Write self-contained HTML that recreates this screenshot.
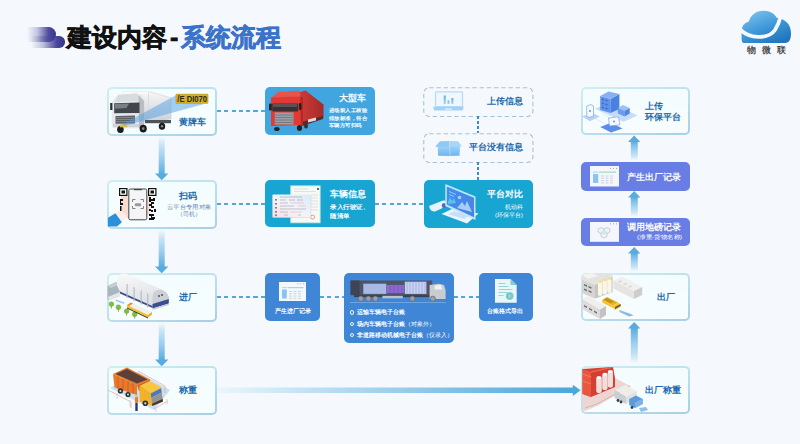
<!DOCTYPE html>
<html><head><meta charset="utf-8">
<style>
*{margin:0;padding:0;box-sizing:border-box}
html,body{width:800px;height:444px;overflow:hidden;background:#f5f8fd;font-family:"Liberation Sans",sans-serif}
.a{position:absolute}
.lb{position:absolute;border:2px solid transparent;border-radius:5px;background:linear-gradient(180deg,#f3fcfe,#f7fdff) padding-box,linear-gradient(160deg,#d0eff2 0%,#bfe2ee 45%,#a6cfe6 100%) border-box}
.lbl{position:absolute;font-weight:bold;color:#1b68aa;font-size:9px;line-height:10px;white-space:nowrap}
.bb{position:absolute;border-radius:5px}
.wt{position:absolute;color:#fff;white-space:nowrap}
.dh{position:absolute;height:2px;background:repeating-linear-gradient(90deg,#55a4da 0 4px,transparent 4px 7.3px)}
.dv{position:absolute;width:2px;background:repeating-linear-gradient(180deg,#3c8ac8 0 3px,transparent 3px 5px)}
.dbox{position:absolute;border:1px dashed #a9c6de;border-radius:6px}
</style></head><body>

<!-- title logo -->
<div class="a" style="left:31px;top:36.2px;width:33.7px;height:11.5px;border-radius:0 5.75px 5.75px 0;background:linear-gradient(90deg,rgba(70,68,150,0),rgba(70,68,150,0.3) 35%,#4a489a 75%,#363487)"></div>
<div class="a" style="left:27px;top:26.8px;width:29px;height:14.8px;border-radius:0 7.4px 7.4px 0;background:linear-gradient(90deg,rgba(70,68,150,0),rgba(80,78,160,0.3) 35%,#4d4b9e 75%,#37358a)"></div>

<div class="a" style="left:67px;top:22px;font-size:25px;line-height:30px;font-weight:bold;color:#111;white-space:nowrap;-webkit-text-stroke:0.7px #111">建设内容<span style="padding:0 2.5px 0 3px">-</span><span style="color:#3b73c9;-webkit-text-stroke:0.7px #3b73c9">系统流程</span></div>

<!-- cloud logo -->
<svg class="a" style="left:740px;top:9px" width="54" height="36" viewBox="0 0 54 36">
<defs><linearGradient id="cg" x1="0.2" y1="0" x2="0.8" y2="1"><stop offset="0" stop-color="#78c2ee"/><stop offset="0.55" stop-color="#3a94d6"/><stop offset="1" stop-color="#1f72bc"/></linearGradient></defs>
<path d="M4.5 34 C2 34 1.6 32 1.6 29 L1.6 22.5 C1.6 17.5 4 13.8 8.8 12.8 C10.5 6.5 15.5 1.8 23.5 1.8 C30.5 1.8 34.5 4.8 36.6 8.8 C45 9.6 51 15.5 51 24 C51 30 49.5 34 45 34 Z" fill="url(#cg)"/>
<path d="M0 20.3 C9 29.5 28 31 35 21 C37.5 17 39.5 12 41 6.5" stroke="#f5f8fd" stroke-width="3.8" fill="none"/>
</svg>
<div class="a" style="left:747px;top:44px;font-size:9px;line-height:12px;color:#2a2a2a;letter-spacing:6px;white-space:nowrap;-webkit-text-stroke:0.2px #2a2a2a">物微联</div>

<!-- LEFT COLUMN -->
<div class="lb" style="left:107px;top:87px;width:109.5px;height:48.5px"></div>
<svg class="a" style="left:108px;top:88px" width="104" height="46" viewBox="0 0 104 46">
<defs><linearGradient id="cbx" x1="0" y1="0" x2="0" y2="1"><stop offset="0" stop-color="#f6f6f6"/><stop offset="1" stop-color="#cdd0d4"/></linearGradient></defs>
<path d="M14.5 4.1 L40.9 3.6 L63.1 9.8 L63.1 31 L37.3 34.2 L30 30 Z" fill="url(#cbx)" stroke="#c9ccd0" stroke-width="0.5"/>
<path d="M14.5 4.1 L40.9 3.6 L43 5.5 L16 6.5 Z" fill="#fafafa"/>
<path d="M40.5 4 L40.5 34" stroke="#d0d3d6" stroke-width="0.6"/>
<path d="M4.1 14 L9 8 L28 5.5 L34 7.5 L36.2 13 L36.2 38.5 L30 40.4 L5 40 L3.6 36 Z" fill="#e6e8ea"/>
<path d="M10 6.8 L29 5.2 L33.5 12.5 L7 14 Z" fill="#d9dcdf"/>
<path d="M30.5 7 L36.2 13 L36.2 38.5 L31 40 Z" fill="#b9bdc2"/>
<path d="M6.2 15.2 L31.5 14.5 L31.5 25 L6.2 25.2 Z" fill="#42464e"/>
<path d="M7 16 L21 15.6 L18.5 20 L7 20.8 Z" fill="#7a7e86"/>
<path d="M7.5 28 L27 27.5 L27 35.5 L7.5 35.8 Z" fill="#5c6068"/>
<g stroke="#9a9ea6" stroke-width="0.6"><path d="M8 29.5h18.5M8 31.5h18.5M8 33.5h18.5"/></g>
<rect x="5" y="36" width="26" height="3" fill="#d0d3d6"/>
<rect x="2.2" y="15" width="2.2" height="7" fill="#2e2e32"/>
<rect x="37" y="32" width="26" height="3.2" fill="#50545a"/>
<g fill="#1c1c20"><ellipse cx="12.4" cy="41.4" rx="3.3" ry="3.5"/><ellipse cx="35.2" cy="40.6" rx="3.6" ry="3.9"/><ellipse cx="54" cy="38.3" rx="3.2" ry="3.5"/></g>
<g fill="#8a8a8a"><circle cx="35.2" cy="40.6" r="1.3"/><circle cx="54" cy="38.3" r="1.2"/></g>
<rect x="11.9" y="36.5" width="7.3" height="2.8" fill="#d8c040"/>
<path d="M67.9 7.2 L96 15.9 L17.5 37.5 L14 36.8 Z" fill="#4f9fe4" opacity="0.5"/>
<rect x="67.9" y="6.1" width="32.2" height="9.4" rx="0.8" fill="#cfb032" stroke="#b09020" stroke-width="0.4"/>
<text x="69.3" y="14" font-family="Liberation Sans, sans-serif" font-size="8.6" font-weight="bold" fill="#2e2a10" textLength="29.8" lengthAdjust="spacingAndGlyphs">/E DI070</text>
</svg>
<div class="lbl" style="left:179px;top:117px">黄牌车</div>
<div class="lb" style="left:107px;top:180px;width:109.5px;height:48.5px"></div>
<svg class="a" style="left:106px;top:184px" width="56" height="44" viewBox="0 0 56 44">
<path d="M14.9 12 L22.3 12 L22.3 34 L14.9 34 Z" fill="#fadbd1"/>
<path d="M41.1 12 L44 12 L44 31 L41.1 31 Z" fill="#fadbd1"/>
<path d="M9.4 29.2 L14.5 25.5 L21 33.5 L15.9 38.2 Z" fill="#fbeee9"/>
<path d="M2 33.7 L9.4 29.2 L15.9 38.2 L11 42.5 L2 42.5 Z" fill="#2b8fda"/>
<g fill="#111">
<rect x="13" y="4" width="8.5" height="8"/><rect x="42" y="4" width="8.5" height="8"/>
</g>
<g fill="#fff"><rect x="14.2" y="5.2" width="6.1" height="5.6"/><rect x="43.2" y="5.2" width="6.1" height="5.6"/></g>
<g fill="#111"><rect x="15.5" y="6.5" width="3.5" height="3"/><rect x="44.5" y="6.5" width="3.5" height="3"/>
<path d="M14 15h3v2h-2v2h2v2h-3zM14 22h1.5v5H14z"/>
<path d="M43 13h2v2h2v2h-2v1h3v2h-2v2h2v2h-3v2h2v2h-2v2h3v2h-2v2h2v2h-5v-2h2v-2h-2v-2h2v-3h-2v-2h2v-3h-2v-2h2v-2h-2z"/>
<path d="M47 14h2v3h-2zM48 25h2v3h-2zM46 33h3v2h-3z"/>
</g>
<rect x="22.8" y="5" width="18" height="30.8" rx="1.5" fill="#f5f5f7" stroke="#444" stroke-width="1"/>
<rect x="28" y="5" width="8" height="1.2" fill="#444"/>
<g stroke="#777" stroke-width="0.9" fill="none"><path d="M26.5 18v-2.5h3M34.5 15.5h3v2.5M37.5 22v2.5h-3M29.5 24.5h-3v-2.5"/></g>
<rect x="28.8" y="19.3" width="6.4" height="3" rx="1.2" fill="#999"/>
</svg>
<div class="lbl" style="left:179px;top:191px">扫码</div>
<div class="a" style="left:166.5px;top:204px;font-size:6px;line-height:7px;color:#6585b5;white-space:nowrap;transform:scaleX(1.057);transform-origin:0 0">云平台专用对象</div>
<div class="a" style="left:176.5px;top:211px;font-size:6px;line-height:7px;color:#6585b5;white-space:nowrap">（司机）</div>
<div class="lb" style="left:107px;top:273px;width:109.5px;height:48.5px"></div>
<svg class="a" style="left:106px;top:272px" width="66" height="48" viewBox="0 0 66 48">
<defs><linearGradient id="roof" x1="0" y1="0" x2="0.3" y2="1"><stop offset="0" stop-color="#fafafa"/><stop offset="1" stop-color="#dcdfe3"/></linearGradient></defs>
<path d="M1.5 14 L10 10 L14 12 L14 24 L3 28 L1.5 27 Z" fill="#a9b6be"/>
<path d="M1.5 14 L10 10 L14 12 L5 16 Z" fill="#c5ced4"/>
<path d="M2 25 L14 20 L14 24 L3 28 Z" fill="#e4e6e8"/>
<path d="M11 6 Q13 1 20 1.5 L52 16 Q60 18 62.8 25 L62.8 29 L46.5 34 L14 19.5 L11 14 Z" fill="url(#roof)"/>
<path d="M46.5 25 Q47 17.5 54 17.8 Q61 18.5 62.8 25 L62.8 29.5 L46.5 34.5 Z" fill="#cdd1d7"/>
<path d="M14 19.5 L46.5 34 L46.5 36 L14 21.5 Z" fill="#3b4f8e"/>
<path d="M46.5 32 L62.8 27 L62.8 31.5 L46.5 36.5 Z" fill="#3b4f8e"/>
<path d="M46.5 36.5 L62.8 31.5 L62.8 33 L46.5 38 Z" fill="#c8ccd2"/>
<g fill="#444"><circle cx="53" cy="24" r="0.9"/><circle cx="56" cy="23" r="0.9"/></g>
<g stroke="#b4b8c0" stroke-width="1.1"><path d="M21.1 12v14M28.1 15.2v14M35.2 18.4v14M41.7 21.6v14"/></g>
<path d="M10 27.5 L18.5 30.5 L18 32 L9.5 29 Z" fill="#9ccaf0"/>
<g fill="#7cbf3e"><circle cx="5.4" cy="32" r="2.6"/><circle cx="12.4" cy="35.2" r="2.6"/><circle cx="20.6" cy="39" r="2.6"/><circle cx="28.7" cy="42.2" r="2.6"/></g>
<g stroke="#8a6a3a" stroke-width="0.7"><path d="M5.4 34v2.5M12.4 37.2v2.5M20.6 41v2.5M28.7 44.2v2.5"/></g>
<path d="M21 33 L25 30.5 L46 40 L42 43 Z" fill="#f0f0ee"/>
<path d="M21 33 L42 43 L42 45.5 L21 35.5 Z" fill="#f2c030"/>
<path d="M42 43 L46 40 L46 42.5 L42 45.5 Z" fill="#f3a820"/>
<path d="M21 33 L25 30.5 L27 31.5 L23 34 Z" fill="#ee8a1e"/>
<path d="M21 35.5 L42 45.5 L42 46.5 L21 36.5 Z" fill="#333"/>
</svg>
<div class="lbl" style="left:179px;top:292px">进厂</div>
<div class="lb" style="left:107px;top:366px;width:109.5px;height:48.5px"></div>
<svg class="a" style="left:108px;top:366px" width="64" height="48" viewBox="0 0 64 48">
<path d="M2 22 L30 6 L62 24 L46 44 Z" fill="#c9e0f2"/>
<g stroke="#e8a0a0" stroke-width="0.7" fill="none"><path d="M0 24 L23 36 M30 5 L57 20 M23 36 L23 42 M57 20 L57 27 M46 43 L60 35"/></g>
<g stroke="#c8ccd4" stroke-width="0.8"><path d="M9 27v6M22 34v7M48 42v4M59 33v5"/></g>
<path d="M5 8 L29 19 L29 29 L6.5 21.5 Z" fill="#e9792c"/>
<g stroke="#c85d1c" stroke-width="0.9"><path d="M10 10.5v12.5M15 13v12M20 15v11.5M25 17v11"/></g>
<path d="M5 8 L18.9 1.5 L42 13.5 L29 19 Z" fill="#e57828"/>
<path d="M7.5 8 L19 3 L39.5 13.5 L29 17.5 Z" fill="#5a4038"/>
<path d="M29 19 L42 13.5 L42 19.5 L31 25 Z" fill="#d0651e"/>
<circle cx="12.4" cy="24.9" r="2.6" fill="#333"/><circle cx="12.4" cy="24.9" r="1" fill="#ddd"/>
<circle cx="20" cy="28.6" r="2.6" fill="#333"/><circle cx="20" cy="28.6" r="1" fill="#ddd"/>
<path d="M31.4 20 L41.6 15.1 L53 21 L42.7 26.5 Z" fill="#f9c640"/>
<path d="M31.4 20 L42.7 26.5 L44.3 40 L31.9 35.7 Z" fill="#f3b12a"/>
<path d="M42.7 26.5 L53 21 L55.1 35.7 L44.3 40 Z" fill="#f7b830"/>
<path d="M42.8 27.5 L53.1 22.3 L53.6 26.5 L43.2 31.8 Z" fill="#4a78c4"/>
<path d="M43.3 32 L53.7 26.8 L54.5 32.5 L43.9 37.6 Z" fill="#8f939c"/>
<path d="M44 37.8 L54.6 32.8 L55 35.5 L44.3 40 Z" fill="#3a3a3a"/>
<circle cx="37.3" cy="37.3" r="2.8" fill="#333"/><circle cx="37.3" cy="37.3" r="1.1" fill="#ddd"/>
<rect x="27" y="31" width="3" height="6" rx="1" fill="#f07a20"/>
<circle cx="28.5" cy="30" r="1.3" fill="#e8b890"/>
<rect x="27.3" y="37" width="2.4" height="8" fill="#2a3a6a"/>
</svg>
<div class="lbl" style="left:179px;top:385px">称重</div>

<!-- MIDDLE -->
<div class="bb" style="left:265px;top:87px;width:109.5px;height:47.6px;background:#41a5df"></div>
<svg class="a" style="left:266px;top:88px" width="62" height="46" viewBox="0 0 62 46">
<defs><linearGradient id="trl" x1="0" y1="0" x2="1" y2="0"><stop offset="0" stop-color="#d23c36"/><stop offset="1" stop-color="#a52a2c"/></linearGradient></defs>
<path d="M31 5 L39.5 2.5 L57.5 16.5 L57.5 30 L36 37 L33 36 Z" fill="url(#trl)"/>
<path d="M36 34 L57 28 L57 31 L36 38 Z" fill="#5a2a2a"/>
<rect x="42" y="31" width="8" height="3" fill="#ddd" transform="skewY(-14) translate(0,11)"/>
<path d="M12 4 L33 2.5 L35 9 L5 10 Z" fill="#e8544a"/>
<path d="M5 9.5 L34 8.5 L35 37 L5 38 Z" fill="#e23a32"/>
<path d="M34 8.5 L37 9 L37 37 L35 38 Z" fill="#b22a28"/>
<rect x="6.2" y="15.5" width="26" height="8" rx="1" fill="#3c2f33"/>
<rect x="7" y="16" width="24" height="3" fill="#5b5258"/>
<rect x="8.8" y="24.5" width="18.7" height="12" fill="#9aa0a8"/>
<g stroke="#6b7078" stroke-width="0.8"><path d="M9 27H27M9 29.5H27M9 32H27M9 34.5H27"/></g>
<rect x="3" y="15.5" width="2.8" height="7" rx="1" fill="#222"/>
<rect x="33" y="15" width="2.5" height="7" rx="1" fill="#222"/>
<ellipse cx="10.9" cy="41" rx="2.8" ry="2" fill="#222"/>
<ellipse cx="33.5" cy="40" rx="2.6" ry="3" fill="#222"/>
<ellipse cx="40" cy="38" rx="2" ry="2.6" fill="#333"/>
</svg>
<div class="wt" style="left:339px;top:93px;font-size:9px;font-weight:bold;line-height:10px">大型车</div>
<div class="wt" style="left:328.7px;top:107.3px;font-size:5.25px;line-height:7.35px;transform:scaleX(1.09);transform-origin:0 0;font-weight:bold">进场前人工核验<br>排放标准，符合<br>车辆方可扫码</div>

<div class="bb" style="left:265px;top:180px;width:109.8px;height:47.4px;background:#19a5d1"></div>
<svg class="a" style="left:270px;top:184px" width="54" height="42" viewBox="0 0 54 42">
<defs><linearGradient id="crd" x1="0" y1="1" x2="1" y2="0"><stop offset="0" stop-color="#f5dde6"/><stop offset="0.45" stop-color="#f5f3f8"/><stop offset="1" stop-color="#d8ecf8"/></linearGradient></defs>
<rect x="20.8" y="1.9" width="29.3" height="36.9" fill="#f7faf4" stroke="#bfe9ea" stroke-width="0.9"/>
<g stroke="#c4cac6" stroke-width="0.5"><path d="M24 5h14M24 7.5h22M41 11h7M41 14h7M41 17h7M41 20h7M41 23h7M41 26h7"/></g>
<rect x="47" y="4" width="2" height="2" fill="#666"/>
<circle cx="42.6" cy="33.1" r="2" fill="none" stroke="#e07070" stroke-width="0.7"/>
<rect x="2.9" y="10.9" width="38.3" height="23.2" rx="1.2" fill="#9ab8c8" opacity="0.5"/>
<rect x="2.4" y="10.4" width="38.3" height="23.2" rx="1.2" fill="url(#crd)"/>
<g stroke="#8e8a9c" stroke-width="0.5"><path d="M10 13h22M10 16h6M19 16h6M27 16h6M10 19h8M10 22h14M10 25h26M10 28h8M14 31h4M28 31h3"/></g>
<g stroke="#d8a0b0" stroke-width="0.5"><path d="M20 19h14M28 22h8M20 28h12"/></g>
<g fill="#a07480"><rect x="5" y="15" width="2" height="1.6"/><rect x="5" y="19" width="2" height="1.6"/><rect x="5" y="23" width="2" height="1.6"/><rect x="5" y="27" width="2" height="1.6"/><rect x="5" y="30.5" width="2" height="1.6"/></g>
</svg>
<div class="wt" style="left:330px;top:189px;font-size:9px;font-weight:bold;line-height:10px">车辆信息</div>
<div class="wt" style="left:330px;top:203px;font-size:6px;line-height:8.6px;transform:scaleX(1.09);transform-origin:0 0;font-weight:bold">录入行驶证、<br>随清单</div>

<svg class="a" style="left:423px;top:86.5px" width="111" height="30"><rect x="0.75" y="0.75" width="109.2" height="28.7" rx="5.5" fill="none" stroke="#a4c2da" stroke-width="1.1" stroke-dasharray="4.3 2.9"/></svg>
<svg class="a" style="left:432px;top:91px" width="33" height="20" viewBox="0 0 33 20">
<defs><linearGradient id="lpb" x1="0" y1="0" x2="0" y2="1"><stop offset="0" stop-color="#62aef0"/><stop offset="1" stop-color="#a8d4f6"/></linearGradient></defs>
<rect x="3.6" y="0.8" width="26.9" height="14.9" rx="1" fill="#f0f8ff" stroke="#b4dbf8" stroke-width="1.3"/>
<rect x="11.7" y="4.5" width="2.1" height="8.5" fill="url(#lpb)"/>
<rect x="15.5" y="9.5" width="1.9" height="3.5" fill="url(#lpb)"/>
<rect x="19.3" y="7" width="2.1" height="6" fill="url(#lpb)"/>
<path d="M0.9 15.7 H31.9 L30.5 19.5 H2.3 Z" fill="#a3d0f5"/>
<rect x="13" y="17.5" width="7" height="1.2" fill="#e8f4fd"/>
</svg>
<div class="lbl" style="left:487px;top:96px">上传信息</div>
<svg class="a" style="left:434px;top:140px" width="30" height="17" viewBox="0 0 30 17">
<defs><linearGradient id="bxg" x1="0" y1="0" x2="0" y2="1"><stop offset="0" stop-color="#9ed2f8"/><stop offset="1" stop-color="#6db6f2"/></linearGradient></defs>
<path d="M3.8 6 L26 6 L25.5 15.7 L15 16 L4 15.7 Z" fill="url(#bxg)"/>
<path d="M1.1 6.8 L6 1.3 L15 1.1 L16 6.3 L7 7.3 Z" fill="#8fcaf6"/>
<path d="M15 1.1 L24 1.3 L27.9 6.3 L19 7 L16 6.3 Z" fill="#a6d6f8"/>
<path d="M15.5 2 L16 15.8" stroke="#c8e6fb" stroke-width="0.6"/>
</svg>
<svg class="a" style="left:423px;top:133px" width="111" height="30"><rect x="0.75" y="0.75" width="109.2" height="28.7" rx="5.5" fill="none" stroke="#a4c2da" stroke-width="1.1" stroke-dasharray="4.3 2.9"/></svg>
<div class="lbl" style="left:469px;top:142px">平台没有信息</div>

<div class="bb" style="left:424px;top:180px;width:109px;height:48px;background:#19a5d1"></div>
<svg class="a" style="left:426px;top:182px" width="56" height="44" viewBox="0 0 56 44">
<defs><linearGradient id="scr" x1="0" y1="0" x2="1" y2="1"><stop offset="0" stop-color="#3d93ec"/><stop offset="1" stop-color="#4f7fe6"/></linearGradient></defs>
<path d="M3 24 L17 18.5 Q20 18 20.5 20 L21 24 L9 29.5 Q6 30 4 27 Z" fill="#e6f3fd"/>
<ellipse cx="18" cy="23.5" rx="2.2" ry="2.6" fill="#4a68c0"/>
<path d="M15.5 32 L27 26.5 L52.5 31.5 L41 41.5 Z" fill="#e9f5fe"/>
<path d="M22 32 L28 29.5 L44 33 L38 37 Z" fill="#c6dff6"/>
<path d="M19.3 2 L49.5 14.5 L49.5 38 L19.3 24 Z" fill="#bfe6fb"/>
<path d="M20.8 4.5 L48 15.8 L48 35.3 L20.8 22.6 Z" fill="url(#scr)"/>
<path d="M23 9.5 L30 12.5 M23 12.5 L28 14.6" stroke="#a8d4f8" stroke-width="0.8"/>
<path d="M22 20 L24 15 L26 19 L28 16 L30 21 L22 22 Z" fill="#5fd0f0" opacity="0.8"/>
<path d="M31 26 L36 20 L39 24 L41 19 L46 30 Z" fill="#a8cdf5"/>
<circle cx="33.5" cy="15.5" r="1.8" fill="#a8cdf5"/>
</svg>
<div class="wt" style="left:487px;top:189px;font-size:9px;font-weight:bold;line-height:10px">平台对比</div>
<div class="wt" style="left:505px;top:204px;font-size:5.8px;line-height:7px">机动科</div>
<div class="wt" style="left:495px;top:212px;font-size:5.8px;line-height:7px">(环保平台)</div>

<div class="bb" style="left:265px;top:273px;width:55px;height:48px;background:#3f86d6"></div>
<svg class="a" style="left:279px;top:281.6px" width="27" height="19.4" viewBox="0 0 27 19.4">
<rect width="27" height="19.4" fill="#f3f8fe"/>
<g fill="#9aa0b0"><circle cx="19" cy="1.8" r="0.55"/><circle cx="21.8" cy="1.8" r="0.55"/><circle cx="24.6" cy="1.8" r="0.55"/></g>
<rect x="3" y="5" width="4.8" height="1.2" fill="#b8d8ee"/>
<rect x="8.5" y="5" width="16" height="1.2" fill="#a8dcc0"/>
<rect x="3" y="7.5" width="4.8" height="9" fill="#8ac4ee"/>
<g stroke="#c4c8d2" stroke-width="0.8"><path d="M10 9.5h3M14.5 9.5h3M19 9.5h3M10 11.8h3M14.5 11.8h3M19 11.8h3M10 14.1h3M14.5 14.1h3M19 14.1h3M10 16.4h3M14.5 16.4h3M19 16.4h3"/></g>
</svg>
<div class="wt" style="left:275px;top:308px;font-size:6px;font-weight:bold;line-height:7px">产生进厂记录</div>
<div class="bb" style="left:344px;top:273px;width:110px;height:70px;background:#3f86d6"></div>
<svg class="a" style="left:348px;top:276px" width="102" height="30" viewBox="0 0 102 30">
<rect x="2.6" y="4.5" width="81.6" height="14.6" fill="#4d5566"/>
<rect x="2.6" y="4.5" width="9" height="14.6" fill="#3e4453"/>
<rect x="15.3" y="7.7" width="23" height="10.2" fill="#a9b9e6"/>
<rect x="38.3" y="8.9" width="17.8" height="8.3" fill="#8b6ad0"/>
<rect x="56.8" y="5.7" width="21.6" height="12.2" fill="#c9d1f1"/>
<g stroke="#9aa6d8" stroke-width="0.7"><path d="M59 6v12M62 6v12M65 6v12M68 6v12M71 6v12M74 6v12M77 6v12"/></g>
<g stroke="#7050b8" stroke-width="0.6"><path d="M42 9v8M46 9v8M50 9v8M54 9v8"/></g>
<rect x="6" y="19.1" width="78" height="2" fill="#3a4050"/>
<rect x="34.4" y="19.8" width="20.4" height="2.5" fill="#b8c2d0"/>
<path d="M81.6 9 L91 7.7 L96 9 L97.6 14 L97.6 23 L81.6 23 Z" fill="#c9cdd2"/>
<path d="M86.7 9.6 L93 9 L94.4 13.4 L86.7 13.4 Z" fill="#eef2f6"/>
<g fill="#9aa0a8" stroke="#5a606c" stroke-width="0.6"><circle cx="12.8" cy="22.7" r="2.6"/><circle cx="20.4" cy="22.7" r="2.6"/><circle cx="27.4" cy="22.7" r="2.6"/><circle cx="64.4" cy="22.7" r="2.6"/><circle cx="84.8" cy="22.7" r="2.6"/></g>
</svg>
<div class="a" style="left:350px;top:302px;width:96px;height:1px;background:rgba(255,255,255,0.25)"></div>
<div class="a" style="left:349.6px;top:309.9px;width:4.8px;height:4.8px;border:1.3px solid #f4f8ff;border-radius:50%"></div>
<div class="a" style="left:349.6px;top:321.5px;width:4.8px;height:4.8px;border:1.3px solid #f4f8ff;border-radius:50%"></div>
<div class="a" style="left:349.6px;top:332.6px;width:4.8px;height:4.8px;border:1.3px solid #f4f8ff;border-radius:50%"></div>
<div class="wt" style="left:357px;top:308px;font-size:6px;line-height:8px;font-weight:bold">运输车辆电子台账</div>
<div class="wt" style="left:357px;top:319.5px;font-size:6px;line-height:8px"><b>场内车辆电子台账</b>（对象外）</div>
<div class="wt" style="left:357px;top:331px;font-size:6px;line-height:8px"><b>非道路移动机械电子台账</b>（仅录入）</div>
<div class="bb" style="left:479px;top:273px;width:54px;height:48px;background:#3f86d6"></div>
<svg class="a" style="left:494.9px;top:279.1px" width="22" height="24" viewBox="0 0 22 24">
<path d="M0 0 H15.5 L21.7 6 V23.7 H0 Z" fill="#e9f6f8"/>
<path d="M15.5 0 L21.7 6 H15.5 Z" fill="#7fcfcf"/>
<g stroke="#8fd0cc" stroke-width="0.9"><path d="M3.5 4.5h7M3.5 7.5h10M3.5 10.5h14M3.5 13.5h9M3.5 16.5h5"/></g>
<circle cx="14.7" cy="17" r="4" fill="#8fd6d2"/>
<circle cx="14.7" cy="17" r="2.6" fill="none" stroke="#5ab8b4" stroke-width="0.8"/>
</svg>
<div class="wt" style="left:487px;top:308px;font-size:6px;font-weight:bold;line-height:7px">台账格式导出</div>

<!-- RIGHT -->
<div class="lb" style="left:580.8px;top:87px;width:109.2px;height:48.2px"></div>
<svg class="a" style="left:580px;top:88px" width="60" height="46" viewBox="0 0 60 46">
<g stroke="#cfe0f5" stroke-width="0.6" fill="none"><path d="M12 29 L30 38 M22 25 L30 30 M45 30 L36 35"/></g>
<path d="M15 20.7 L30 14.5 L57.5 27.5 L43.5 33.7 Z" fill="#c6dcf8"/>
<path d="M2 28.5 L12.4 24.9 L19.7 28.5 L9.8 33.2 Z" fill="#b8d2f6"/>
<path d="M6.7 18 L11 16.5 L13.5 18 L13.5 28 L9 29.5 L6.7 28 Z" fill="#f4f8ff" stroke="#7ea6e6" stroke-width="0.7"/>
<circle cx="10" cy="23" r="0.9" fill="#5a88d8"/>
<path d="M20.2 8 L30.6 11 L30.6 25 L20.2 22 Z" fill="#5f92ea"/>
<path d="M30.6 11 L39.4 6 L39.4 21 L30.6 25 Z" fill="#4a80e2"/>
<path d="M20.2 8 L28.5 3.5 L39.4 6 L30.6 11 Z" fill="#86b0f2"/>
<g fill="#3a6cc8"><path d="M22 10.5l2 .6v1.5l-2-.6zM25.5 11.5l2 .6v1.5l-2-.6zM22 14.5l2 .6v1.5l-2-.6zM25.5 15.5l2 .6v1.5l-2-.6zM22 18.5l2 .6v1.5l-2-.6zM25.5 19.5l2 .6v1.5l-2-.6z"/></g>
<path d="M37.8 20 L43 17.1 L49.7 20 L44.5 23 Z" fill="#9bc0f4"/>
<path d="M37.8 20 L44.5 23 L44.5 28.5 L37.8 25.5 Z" fill="#6a9cec"/>
<path d="M44.5 23 L49.7 20 L49.7 25.5 L44.5 28.5 Z" fill="#4f86e0"/>
<path d="M20.2 38.9 L31.1 34.7 L42.5 40.4 L31.1 44.6 Z" fill="#5a8ee6"/>
<path d="M28.5 30 L38.5 28.8 L39.9 36.8 L29.5 38 Z" fill="#f6f9ff" stroke="#7ea6e6" stroke-width="0.7"/>
<circle cx="34" cy="33.5" r="0.9" fill="#5a88d8"/>
</svg>
<div class="lbl" style="left:645px;top:101px;line-height:11px">上传<br>环保平台</div>
<div class="bb" style="left:580.8px;top:161.7px;width:109.2px;height:28.9px;background:#697ee4"></div>
<svg class="a" style="left:590px;top:166px" width="29" height="20.5" viewBox="0 0 29 20.5">
<rect width="29" height="20.5" fill="#f3f7fd"/>
<g fill="#9aa0b0"><circle cx="20.5" cy="2.3" r="0.6"/><circle cx="23.5" cy="2.3" r="0.6"/><circle cx="26.5" cy="2.3" r="0.6"/></g>
<rect x="3" y="5.5" width="5.2" height="1.3" fill="#b8d8ee"/>
<rect x="9" y="5.5" width="17" height="1.3" fill="#a8dcc0"/>
<rect x="3" y="8" width="5.2" height="9" fill="#8ac4ee"/>
<g stroke="#c4c8d2" stroke-width="0.8"><path d="M11 10h3M15.5 10h3M20 10h3M11 12.3h3M15.5 12.3h3M20 12.3h3M11 14.6h3M15.5 14.6h3M20 14.6h3M11 16.9h3M15.5 16.9h3M20 16.9h3"/></g>
</svg>
<div class="wt" style="left:627px;top:172px;font-size:9px;font-weight:bold;line-height:10px">产生出厂记录</div>
<div class="bb" style="left:580.8px;top:217.5px;width:109.2px;height:28.7px;background:#697ee4"></div>
<svg class="a" style="left:590px;top:222px" width="29" height="19.8" viewBox="0 0 29 19.8">
<rect width="29" height="19.8" fill="#f3f7fd"/>
<g fill="#9aa0b0"><circle cx="20.5" cy="1.8" r="0.6"/><circle cx="23.5" cy="1.8" r="0.6"/><circle cx="26.5" cy="1.8" r="0.6"/></g>
<g fill="#eef3f8" stroke="#b0b6c0" stroke-width="0.6"><path d="M8 7 L11 5.5 L14 7 L14 10 L11 11.5 L8 10 Z"/><path d="M14 7 L17 5.5 L20 7 L20 10 L17 11.5 L14 10 Z"/><path d="M11 11.5 L14 10 L17 11.5 L17 14.5 L14 16 L11 14.5 Z"/></g>
<path d="M11.5 9 L14 7.8 L16.5 9 L16.5 11.5 L14 12.7 L11.5 11.5Z" fill="#d4e6f4"/>
</svg>
<div class="wt" style="left:627px;top:222px;font-size:9px;font-weight:bold;line-height:10px">调用地磅记录</div>
<div class="wt" style="left:636.5px;top:234px;font-size:5.9px;line-height:6px;transform:scaleX(1.08);transform-origin:0 0">(净重-货物名称)</div>
<div class="lb" style="left:580.8px;top:273px;width:109.2px;height:48.2px"></div>
<svg class="a" style="left:582px;top:273px" width="64" height="47" viewBox="2 1 64 47">
<path d="M33.5 8.5 L42 4.5 L62.2 15 L54 19 Z" fill="#f1f0ee"/>
<path d="M33.5 8.5 L54 19 L54 27 L33.5 16.5 Z" fill="#e6e4e2"/>
<path d="M54 19 L62.2 15 L62.2 23 L54 27 Z" fill="#cfcdcb"/>
<g fill="#dcdad8"><ellipse cx="40" cy="9.5" rx="2" ry="1"/><ellipse cx="45" cy="12" rx="2" ry="1"/><ellipse cx="50" cy="14.5" rx="2" ry="1"/></g>
<path d="M2 3 L12 1 L32.5 3 L32.5 20 L15 26.5 L2 21 Z" fill="#e4e3e1"/>
<path d="M2 3 L12 1 L18 4 L8 7 Z" fill="#f4f3f1"/>
<path d="M2 8 L15 13 L15 26.5 L2 21 Z" fill="#d6d4d2"/>
<path d="M15 13 L32.5 5 L32.5 20 L15 26.5 Z" fill="#c8c6c4"/>
<g fill="#6a6c72"><path d="M4 12 l3 1.2v1.5l-3-1.2zM8.5 14l3 1.2v1.5l-3-1.2zM4 16.5l3 1.2v1.5l-3-1.2zM8.5 18.3l3 1.2v1.5l-3-1.2z"/></g>
<g fill="#fbf7e6"><rect x="18" y="9" width="4.3" height="15" rx="2.1"/><rect x="22.6" y="7.5" width="4.3" height="15" rx="2.1"/><rect x="27.2" y="6" width="4.3" height="15" rx="2.1"/></g>
<g fill="#f2e07a"><ellipse cx="20.1" cy="9.6" rx="2.1" ry="1.2"/><ellipse cx="24.7" cy="8.1" rx="2.1" ry="1.2"/><ellipse cx="29.3" cy="6.6" rx="2.1" ry="1.2"/></g>
<path d="M2 27 L8 24 L26 34 L20 37.5 Z" fill="#f0efed"/>
<path d="M2 27 L20 37.5 L20 47 L2 37 Z" fill="#dddbd9"/>
<path d="M20 37.5 L26 34 L26 43 L20 47 Z" fill="#c5c3c1"/>
<g fill="#6a6c72"><path d="M4 33l3 1.6v1.5l-3-1.6zM9 35.8l3 1.6v1.5l-3-1.6zM14 38.6l3 1.6v1.5l-3-1.6z"/></g>
<path d="M22.2 28 L27 25 L38 30.5 L33 33.5 Z" fill="#e5b020"/>
<path d="M23.5 27.8 L27 26 L34 29.5 L30.5 31.3 Z" fill="#c89410"/>
<path d="M22.2 28 L33 33.5 L33 36 L22.2 30.5 Z" fill="#f4c22a"/>
<path d="M33 33.5 L38 30.5 L40.6 32.5 L40.6 35 L35 38 L33 36 Z" fill="#f6c830"/>
<path d="M35 35 L40.6 32 L40.6 34 L35 37 Z" fill="#5a5a50"/>
<path d="M39.5 38 L51 42 L53.6 43.5 L49 44.4 L39.5 40 Z" fill="#8cbce6"/>
</svg>
<div class="lbl" style="left:657px;top:292px">出厂</div>
<div class="lb" style="left:580.8px;top:366px;width:109.2px;height:48.2px"></div>
<svg class="a" style="left:582px;top:367px" width="66" height="46" viewBox="2 1 66 46">
<path d="M2.5 30 L35 12 L51 20.5 L17 40 L5 45 L2.5 44 Z" fill="#ecd6d4"/>
<path d="M5 42 L17 38 L50 20" stroke="#d8b4b2" stroke-width="1" fill="none"/>
<path d="M2.5 3 L33 1 L35 12 L35 21 L11 31 L2.5 28 Z" fill="#d53f31"/>
<path d="M2.5 3 L11 6 L11 31 L2.5 28 Z" fill="#e8573e"/>
<path d="M2.5 8 L11 11 M2.5 15 L11 18" stroke="#f07a60" stroke-width="1.2"/>
<path d="M11 6 L33 1" stroke="#e86450" stroke-width="1.5"/>
<g fill="#f1dddc"><rect x="16.2" y="10.8" width="5.6" height="16.2" rx="2.8"/><rect x="22.2" y="7.6" width="5.4" height="16.7" rx="2.7"/><rect x="27.6" y="4.9" width="5.4" height="16.7" rx="2.7"/></g>
<g fill="#fff"><ellipse cx="19" cy="11.5" rx="2.6" ry="1.5"/><ellipse cx="24.9" cy="8.3" rx="2.5" ry="1.5"/><ellipse cx="30.3" cy="5.6" rx="2.5" ry="1.5"/></g>
<path d="M34.6 24 L45 18.9 L56.8 25 L46 30.5 Z" fill="#eeeee6"/>
<path d="M34.6 24 L46 30.5 L46 38 L34.6 32 Z" fill="#c9cdd4"/>
<path d="M46 30.5 L56.8 25 L56.8 32 L46 38 Z" fill="#dfe1e4"/>
<path d="M49.2 33 L56 29.5 L62.7 33 L62.7 38 L55 42 L49.2 39 Z" fill="#5b9bd8"/>
<path d="M55 36.5 L62.7 32.5 L62.7 38 L55 42 Z" fill="#7eb2e4"/>
<g fill="#3a3a44"><circle cx="38" cy="34.5" r="1.4"/><circle cx="41" cy="36" r="1.4"/><circle cx="52" cy="41.5" r="1.4"/></g>
<path d="M59 42 L66 41 L68 44 L61 46 Z" fill="#8fc0ea"/>
</svg>
<div class="lbl" style="left:645px;top:385px">出厂称重</div>

<!-- arrows -->
<svg class="a" style="left:0;top:0" width="800" height="444" viewBox="0 0 800 444">
<defs>
<linearGradient id="gd" x1="0" y1="0" x2="0" y2="1"><stop offset="0" stop-color="#6cb8e6" stop-opacity="0"/><stop offset="0.35" stop-color="#8ccaee" stop-opacity="0.6"/><stop offset="1" stop-color="#58abe0"/></linearGradient>
<linearGradient id="gu" x1="0" y1="1" x2="0" y2="0"><stop offset="0" stop-color="#6cb8e6" stop-opacity="0"/><stop offset="0.35" stop-color="#8ccaee" stop-opacity="0.6"/><stop offset="1" stop-color="#58abe0"/></linearGradient>
<linearGradient id="gh" x1="0" y1="0" x2="1" y2="0"><stop offset="0" stop-color="#eaf6fc"/><stop offset="1" stop-color="#4ba6da"/></linearGradient>
</defs>
<g fill="url(#gd)">
<rect x="158.7" y="137" width="6" height="37"/>
<rect x="158.7" y="230" width="6" height="37"/>
<rect x="158.7" y="323" width="6" height="37"/>
</g>
<g fill="#58abe0">
<path d="M155 173.5 H168.4 L161.7 180.3 Z"/>
<path d="M155 266.5 H168.4 L161.7 273.3 Z"/>
<path d="M155 359.5 H168.4 L161.7 366.3 Z"/>
</g>
<g fill="url(#gu)">
<rect x="630.8" y="141" width="7" height="19"/>
<rect x="630.8" y="197" width="7" height="19"/>
<rect x="630.8" y="253" width="7" height="18"/>
<rect x="630.8" y="328" width="7" height="35"/>
</g>
<g fill="#5aaadd">
<path d="M628 142 H640.4 L634.2 135.5 Z"/>
<path d="M628 197.5 H640.4 L634.2 191 Z"/>
<path d="M628 253.5 H640.4 L634.2 247 Z"/>
<path d="M628 328.5 H640.4 L634.2 322 Z"/>
</g>
<rect x="217" y="387.5" width="357" height="5.5" fill="url(#gh)"/>
<path d="M572.8 384.8 L580.6 390.3 L572.8 396 Z" fill="#4ba6da"/>
</svg>

<!-- dashed connectors -->
<div class="dh" style="left:217px;top:110px;width:48px"></div>
<div class="dh" style="left:217px;top:203px;width:48px"></div>
<div class="dh" style="left:375px;top:203px;width:49px"></div>
<div class="dh" style="left:217px;top:296px;width:48px"></div>
<div class="dh" style="left:320px;top:296px;width:24px"></div>
<div class="dh" style="left:454px;top:296px;width:25px"></div>
<div class="dv" style="left:477px;top:116px;height:17px"></div>
<div class="dv" style="left:477px;top:162px;height:18px"></div>

</body></html>
